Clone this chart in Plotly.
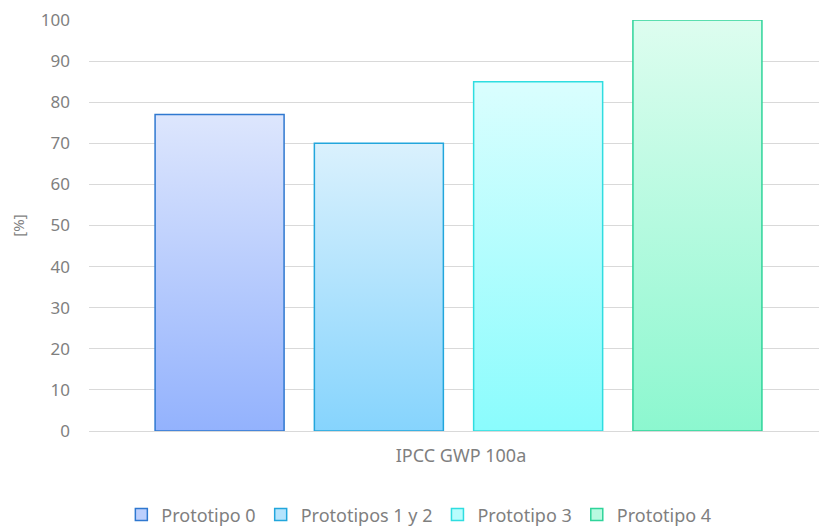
import plotly.graph_objects as go

# ---- data ----
categories = ["IPCC GWP 100a"]
series_names = ["Prototipo 0", "Prototipos 1 y 2", "Prototipo 3", "Prototipo 4"]
series_values = [77, 70, 85, 100]
y_ticks = [0, 10, 20, 30, 40, 50, 60, 70, 80, 90, 100]

# ---- style ----
border_colors = ["#2f78d0", "#22a6dc", "#2fdde0", "#2fd49a"]
top_colors = ["#dde6fd", "#daf1fd", "#dafefe", "#ddfdef"]
bottom_colors = ["#93b2fd", "#86d4fd", "#8afcfd", "#8cf7cf"]
legend_colors = ["#bccffd", "#b5e4fd", "#b8fdfd", "#b9fae0"]
group_start = 0.0695
slot = 0.2173
group_gap = 0.19
cat_pos = 0.5075
font_family = "Noto Sans, Open Sans, sans-serif"
text_color = "#7f7f7f"
fsize = 17
lsize = 18

bar_w = slot * (1 - group_gap)

fig = go.Figure()
for i, (name, v) in enumerate(zip(series_names, series_values)):
    c = group_start + slot * (i + 0.5)
    l, r = c - bar_w / 2, c + bar_w / 2
    fig.add_trace(go.Scatter(
        x=[l, r, r, l, l], y=[0, 0, v, v, 0],
        mode="lines", name=name, showlegend=False,
        line=dict(color=border_colors[i], width=1.5),
        fill="toself",
        fillgradient=dict(type="vertical",
                          colorscale=[[0, bottom_colors[i]], [1, top_colors[i]]]),
        hoverinfo="name+y",
    ))
# legend entries (square swatches)
for i, name in enumerate(series_names):
    fig.add_trace(go.Bar(
        x=[None], y=[None], name=name,
        marker=dict(color=legend_colors[i], line=dict(color=border_colors[i], width=1.5)),
    ))

# page has an 8px body margin, so the figure is sized to fit the window
fig.update_layout(
    width=819, height=518,
    margin=dict(l=81, r=5, t=12, b=95, autoexpand=False),
    plot_bgcolor="white", paper_bgcolor="white",
    font=dict(family=font_family, size=fsize, color=text_color),
    showlegend=True,
    legend=dict(orientation="h", x=0.45, xanchor="center", y=-0.204, yanchor="middle",
                font=dict(size=lsize, color=text_color), itemwidth=30,
                traceorder="normal"),
    xaxis=dict(range=[0, 1], tickvals=[cat_pos], ticktext=categories, showgrid=False,
               zeroline=False, showline=False, ticks="", fixedrange=True,
               ticklabelstandoff=12,
               automargin=False, tickfont=dict(size=lsize, color=text_color)),
    yaxis=dict(range=[0, 100], tickvals=y_ticks, showgrid=True, gridcolor="#d9d9d9",
               gridwidth=1, zeroline=True, zerolinecolor="#d9d9d9", zerolinewidth=1,
               ticks="", ticklabelstandoff=18, automargin=False, ticklabeloverflow="allow",
               title=dict(text="[%]", standoff=22, font=dict(size=fsize - 2, color=text_color)),
               tickfont=dict(size=fsize, color=text_color)),
)

fig.write_html("out.html")
